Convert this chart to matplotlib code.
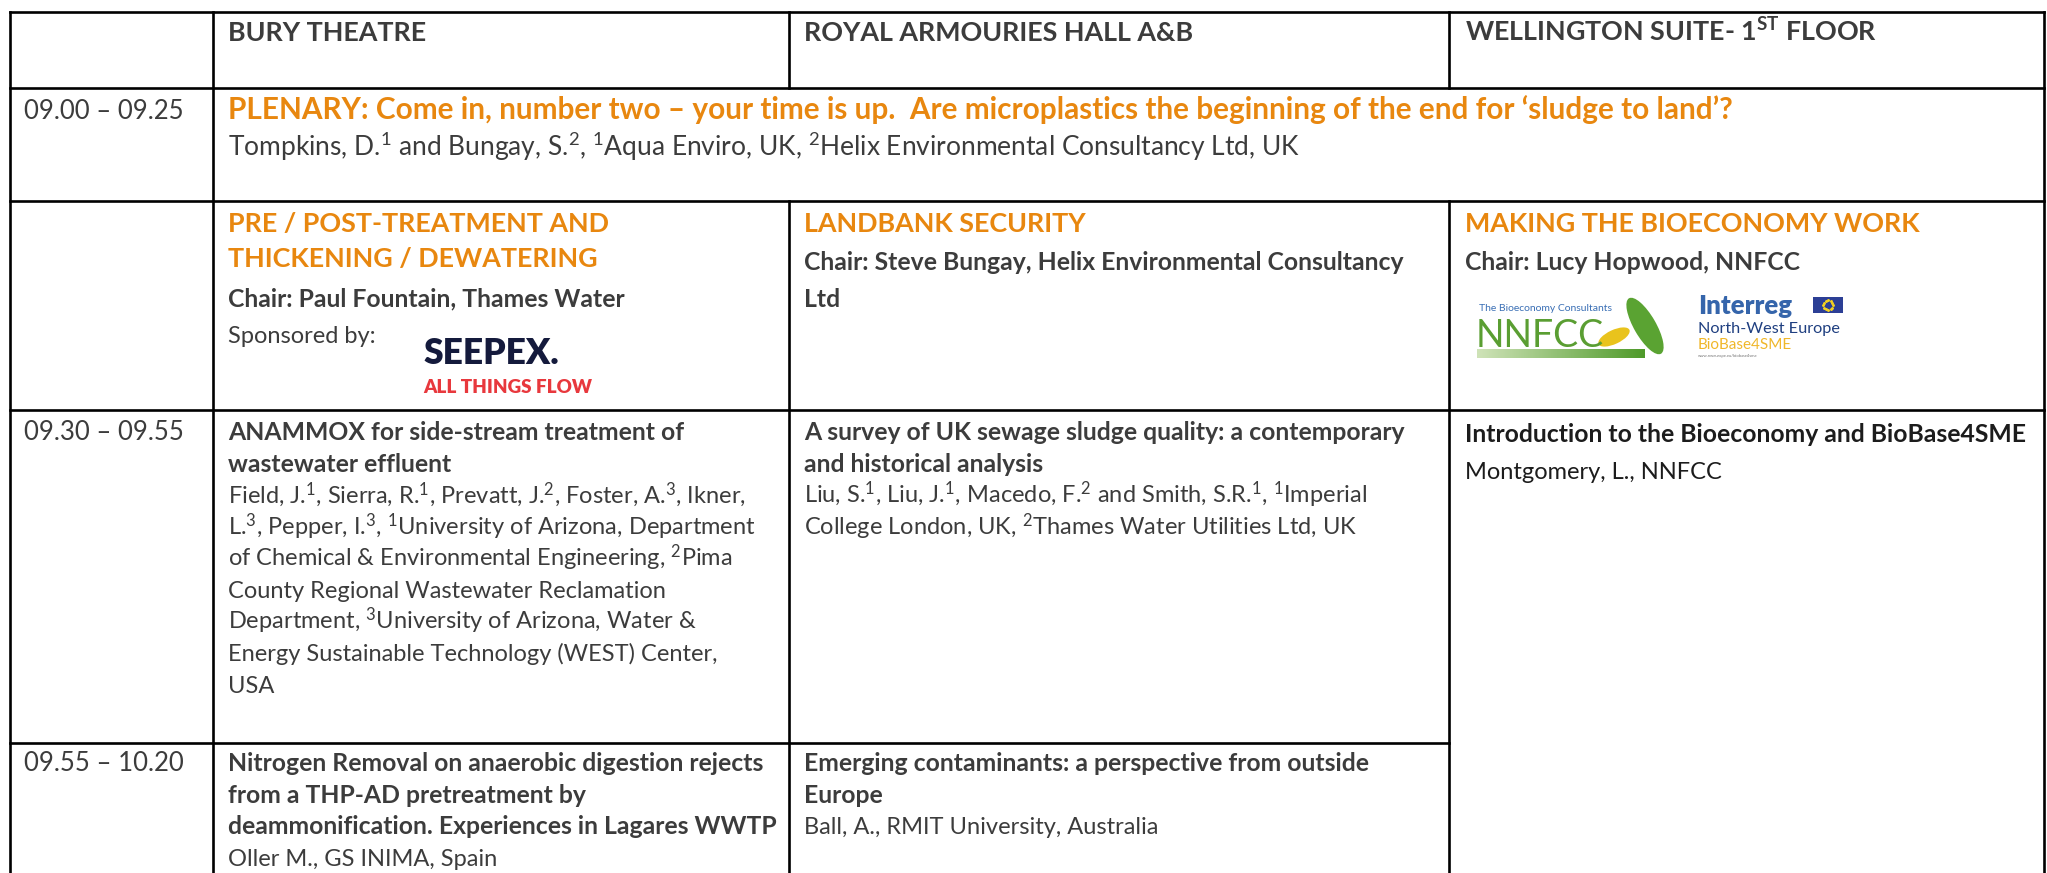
import numpy as np
import matplotlib
matplotlib.use("Agg")
import matplotlib.pyplot as plt
from matplotlib.patches import Rectangle, Ellipse

plt.rcParams['font.family'] = ['Lato', 'DejaVu Sans']
plt.rcParams['mathtext.fontset'] = 'custom'
plt.rcParams['mathtext.default'] = 'regular'

# ---- content (read from the programme page) ----
venues = ['BURY THEATRE', 'ROYAL ARMOURIES HALL A&B', r'WELLINGTON SUITE- 1$^{ST}$ FLOOR']
times = ['09.00 – 09.25', '09.30 – 09.55', '09.55 – 10.20']
plenary_title = 'PLENARY: Come in, number two – your time is up.  Are microplastics the beginning of the end for ‘sludge to land’?'
plenary_authors = r'Tompkins, D.$^1$ and Bungay, S.$^2$, $^1$Aqua Enviro, UK, $^2$Helix Environmental Consultancy Ltd, UK'
session_titles = [['PRE / POST-TREATMENT AND', 'THICKENING / DEWATERING'],
                  ['LANDBANK SECURITY'],
                  ['MAKING THE BIOECONOMY WORK']]
session_chairs = [['Chair: Paul Fountain, Thames Water'],
                  ['Chair: Steve Bungay, Helix Environmental Consultancy', 'Ltd'],
                  ['Chair: Lucy Hopwood, NNFCC']]
sponsor_note = 'Sponsored by:'
slot1_titles = [['ANAMMOX for side-stream treatment of', 'wastewater effluent'],
                ['A survey of UK sewage sludge quality: a contemporary', 'and historical analysis'],
                ['Introduction to the Bioeconomy and BioBase4SME']]
slot1_authors = [[r'Field, J.$^1$, Sierra, R.$^1$, Prevatt, J.$^2$, Foster, A.$^3$, Ikner,',
                  r'L.$^3$, Pepper, I.$^3$, $^1$University of Arizona, Department',
                  r'of Chemical & Environmental Engineering, $^2$Pima',
                  'County Regional Wastewater Reclamation',
                  r'Department, $^3$University of Arizona, Water &',
                  'Energy Sustainable Technology (WEST) Center,',
                  'USA'],
                 [r'Liu, S.$^1$, Liu, J.$^1$, Macedo, F.$^2$ and Smith, S.R.$^1$, $^1$Imperial',
                  r'College London, UK, $^2$Thames Water Utilities Ltd, UK'],
                 ['Montgomery, L., NNFCC']]
slot2_titles = [['Nitrogen Removal on anaerobic digestion rejects', 'from a THP-AD pretreatment by',
                 'deammonification. Experiences in Lagares WWTP'],
                ['Emerging contaminants: a perspective from outside', 'Europe']]
slot2_authors = [['Oller M., GS INIMA, Spain'],
                 ['Ball, A., RMIT University, Australia']]

# ---- style ----
GREY = '#3c3c3c'
DARK = '#1c1c1c'
ORANGE = '#E8870F'
BIG = 18.5      # regular 12pt cells
BIG_B = 19.4    # bold 12pt cells
PLEN = 21.4
BODY = 17       # regular 11pt cells
BODY_B = 17.85  # bold 11pt cells
LS = 31.6

fig = plt.figure(figsize=(20.47, 8.73), dpi=100)
ax = fig.add_axes([0, 0, 1, 1])
ax.set_xlim(0, 2047)
ax.set_ylim(873, 0)
ax.axis('off')

# table grid
xs = [10, 213, 789, 1449, 2044]
ys = [12, 88, 201, 410, 743]
bottom = 873
lw = 1.9
for y in ys[:4]:
    ax.plot([xs[0], xs[4]], [y, y], color='black', lw=lw, solid_capstyle='projecting')
ax.plot([xs[0], xs[3]], [ys[4], ys[4]], color='black', lw=lw)
for x in [xs[0], xs[1], xs[4]]:
    ax.plot([x, x], [ys[0], bottom], color='black', lw=lw)
for x in [xs[2], xs[3]]:
    ax.plot([x, x], [ys[0], ys[1]], color='black', lw=lw)
    ax.plot([x, x], [ys[2], bottom], color='black', lw=lw)

tx = [24, 228, 804, 1465]


def put(x, y, s, size=BODY, weight='normal', color=GREY, **kw):
    return ax.text(x, y, s, fontsize=size, fontweight=weight, color=color,
                   ha='left', va='baseline', zorder=5, **kw)


def block(x, y0, rows, size=BODY, weight='normal', color=GREY, step=LS):
    for i, s in enumerate(rows):
        put(x, y0 + i * step, s, size, weight, color)


# header row
for i, v in enumerate(venues):
    put(tx[i + 1], 41, v, BIG_B, 'bold')

# plenary
put(tx[0], 119, times[0], BIG)
put(tx[1], 119, plenary_title, PLEN, 'bold', ORANGE)
put(tx[1], 156, plenary_authors, 19)

# session headers
block(tx[1], 232, session_titles[0], BIG_B, 'bold', ORANGE, step=35.5)
put(tx[1], 306, session_chairs[0][0], BODY_B, 'bold')
put(tx[1], 343, sponsor_note, BODY)
block(tx[2], 232, session_titles[1], BIG_B, 'bold', ORANGE)
block(tx[2], 270, session_chairs[1], BODY_B, 'bold', step=37)
block(tx[3], 232, session_titles[2], BIG_B, 'bold', ORANGE)
block(tx[3], 270, session_chairs[2], BODY_B, 'bold')

# SEEPEX sponsor logo (white patch over the rule, as in the original)
ax.add_patch(Rectangle((411, 330), 205, 79, facecolor='white', edgecolor='none', zorder=3))
ax.text(423, 364, 'SEEPEX.', fontsize=25.5, fontweight='heavy', color='#141a3c',
        va='baseline', zorder=5)
ax.text(423, 393, 'ALL THINGS FLOW', fontsize=13.6, fontweight='heavy', color='#E8383D',
        va='baseline', zorder=5)

# NNFCC logo
ax.text(1479, 311, 'The Bioeconomy Consultants', fontsize=7.5, color='#3a6fb5', va='baseline', zorder=5)
ax.text(1476, 347, 'NNFCC', fontsize=27, color='#5a9e32', va='baseline', zorder=5)
grad = np.linspace(0, 1, 200)[None, :]
ax.imshow(grad, extent=(1477, 1645, 358, 349), cmap=matplotlib.colors.LinearSegmentedColormap.from_list(
    'g', ['#cfe3b8', '#4f9a2a']), aspect='auto', zorder=4)
ax.add_patch(Ellipse((1645, 326), 22, 64, angle=-30, facecolor='#5aa332', edgecolor='none', zorder=4))
ax.add_patch(Ellipse((1614, 337), 34, 14, angle=-25, facecolor='#e9c31c', edgecolor='none', zorder=4))

# Interreg logo
ax.text(1698, 314, 'Interreg', fontsize=18.5, fontweight='heavy', color='#3565ab', va='baseline', zorder=5)
ax.add_patch(Rectangle((1813, 297), 30, 16, facecolor='#2c3f95', edgecolor='none', zorder=4))
ang = np.linspace(0, 2 * np.pi, 13)[:-1]
ax.scatter(1828 + 5 * np.cos(ang), 305 + 5 * np.sin(ang), s=1.2, color='#f5d320', zorder=5)
ax.text(1698, 333, 'North-West Europe', fontsize=11.7, color='#1f3f80', va='baseline', zorder=5)
ax.text(1698, 349, 'BioBase4SME', fontsize=11, color='#f0b72a', va='baseline', zorder=5)
ax.text(1698, 357, 'www.nweurope.eu/biobase4sme', fontsize=3, color='#777777', va='baseline', zorder=5)

# 09.30 slot
put(tx[0], 440, times[1], BIG)
for c in range(2):
    block(tx[c + 1], 440, slot1_titles[c], BODY_B, 'bold')
    block(tx[c + 1], 503, slot1_authors[c], BODY)
block(tx[3], 442, slot1_titles[2], BODY_B, 'bold', DARK)
block(tx[3], 479, slot1_authors[2], BODY, 'normal', DARK)

# 09.55 slot
put(tx[0], 771, times[2], BIG)
for c in range(2):
    block(tx[c + 1], 771, slot2_titles[c], BODY_B, 'bold')
    block(tx[c + 1], 771 + LS * len(slot2_titles[c]), slot2_authors[c], BODY)

fig.savefig('out.png', dpi=100, facecolor='white')
